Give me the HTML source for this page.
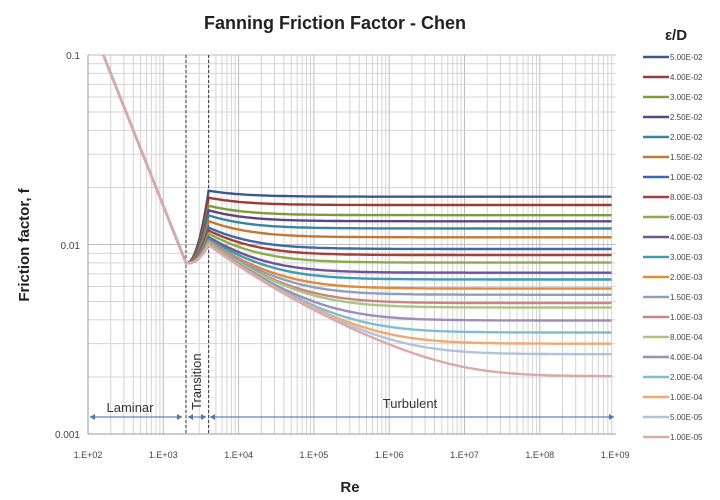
<!DOCTYPE html>
<html><head><meta charset="utf-8"><style>
html,body{margin:0;padding:0;background:#fff;}
svg{display:block;font-family:"Liberation Sans",sans-serif;}
</style></head><body>
<svg id="s" width="720" height="500" viewBox="0 0 720 500" xmlns="http://www.w3.org/2000/svg"></svg>
<script>
var s=document.getElementById('s'),h='';
var X0=88,XD=75.3,Y0=434,YD=189.5;
function X(re){return X0+XD*(Math.log10(re)-2);}
function Y(f){return Y0-YD*(Math.log10(f)+3);}
for(var d=2;d<9;d++)for(var k=1;k<10;k++){var v=k*Math.pow(10,d);if(v>1e9)break;var x=X(v);
 h+='<line x1="'+x.toFixed(1)+'" y1="55" x2="'+x.toFixed(1)+'" y2="'+Y0+'" stroke="'+(k==1?'#bdbdbd':'#d4d4d4')+'" stroke-width="1"/>';}
for(var d=-3;d<-1;d++)for(var k=1;k<10;k++){var v=k*Math.pow(10,d);var y=Y(v);
 h+='<line x1="'+X0+'" y1="'+y.toFixed(1)+'" x2="615.7" y2="'+y.toFixed(1)+'" stroke="'+(k==1?'#bdbdbd':'#d4d4d4')+'" stroke-width="1"/>';}
h+='<line x1="'+X0+'" y1="55" x2="615.7" y2="55" stroke="#bdbdbd"/>';
h+='<line x1="'+X0+'" y1="55" x2="'+X0+'" y2="'+Y0+'" stroke="#999"/>';
h+='<line x1="'+X0+'" y1="'+Y0+'" x2="615.7" y2="'+Y0+'" stroke="#999"/>';
[2000,4000].forEach(function(r){var x=X(r);h+='<line x1="'+x+'" y1="55" x2="'+x+'" y2="'+Y0+'" stroke="#333" stroke-dasharray="3,2"/>';});
var eps=[5e-2,4e-2,3e-2,2.5e-2,2e-2,1.5e-2,1e-2,8e-3,6e-3,4e-3,3e-3,2e-3,1.5e-3,1e-3,8e-4,4e-4,2e-4,1e-4,5e-5,1e-5];
var lab=['5.00E-02','4.00E-02','3.00E-02','2.50E-02','2.00E-02','1.50E-02','1.00E-02','8.00E-03','6.00E-03','4.00E-03','3.00E-03','2.00E-03','1.50E-03','1.00E-03','8.00E-04','4.00E-04','2.00E-04','1.00E-04','5.00E-05','1.00E-05'];
var col=['#3b5a8c','#9b3a36','#7e9a3e','#5d467f','#36869c','#c07a35','#3f6aa6','#a3403c','#8aad4a','#6e5596','#3f9ab2','#e08a3a','#8c9fbf','#c98583','#a9c57f','#9d8db8','#7dbfcf','#f5a86e','#b0c3dc','#dba9a8'];
function chen(e,re){var A=Math.log10(Math.pow(e,1.1098)/2.8257+5.8506/Math.pow(re,0.8981));var v=-4*Math.log10(e/3.7065-5.0452/re*A);return 1/(v*v);}
for(var i=0;i<eps.length;i++){var e=eps[i],p=[];
 for(var l=Math.log10(160);l<=Math.log10(2000);l+=0.05)p.push([X(Math.pow(10,l)),Y(16/Math.pow(10,l))]);
 p.push([X(2000),Y(0.008)]);
 var a=Math.log10(0.008),b=Math.log10(chen(e,4000));
 for(var t=0.1;t<=1.001;t+=0.1){var lr=Math.log10(2000)+t*Math.log10(2);var lf=a+(b-a)*t*t-0.03*t*(1-t);p.push([X(Math.pow(10,lr)),Y(Math.pow(10,lf))]);}
 for(var l=Math.log10(4000)+0.05;l<=9.001;l+=0.05){var re=Math.pow(10,l);p.push([X(re),Y(chen(e,re))]);}
 h+='<polyline fill="none" stroke="'+col[i]+'" stroke-width="2.4" points="'+p.map(function(q){return q[0].toFixed(1)+','+q[1].toFixed(1)}).join(' ')+'"/>';}
for(var i=0;i<20;i++){var y=57+i*20;h+='<line x1="643" y1="'+y+'" x2="669" y2="'+y+'" stroke="'+col[i]+'" stroke-width="2.5"/><text x="670" y="'+(y+3)+'" font-size="8" fill="#444">'+lab[i]+'</text>';}
var xl=['1.E+02','1.E+03','1.E+04','1.E+05','1.E+06','1.E+07','1.E+08','1.E+09'];
for(var i=0;i<8;i++)h+='<text x="'+X(Math.pow(10,i+2))+'" y="458" font-size="9" fill="#444" text-anchor="middle">'+xl[i]+'</text>';
h+='<text x="80" y="59" font-size="10" fill="#444" text-anchor="end">0.1</text><text x="80" y="249" font-size="10" fill="#444" text-anchor="end">0.01</text><text x="80" y="438" font-size="10" fill="#444" text-anchor="end">0.001</text>';
function arr(x1,x2){var y=417;return '<line x1="'+x1+'" y1="'+y+'" x2="'+x2+'" y2="'+y+'" stroke="#5b86c5" stroke-width="1.3"/><path d="M'+x1+' '+y+'l5 -3v6z M'+x2+' '+y+'l-5 -3v6z" fill="#4d77b4"/>';}
h+=arr(90,182)+arr(188,206)+arr(210,614);
h+='<text x="130" y="412" font-size="13" fill="#333" text-anchor="middle">Laminar</text>';
h+='<text x="410" y="408" font-size="13" fill="#333" text-anchor="middle">Turbulent</text>';
h+='<text transform="translate(201,410) rotate(-90)" font-size="13" fill="#333">Transition</text>';
h+='<text x="335" y="29" font-size="18" font-weight="bold" fill="#222" text-anchor="middle">Fanning Friction Factor - Chen</text>';
h+='<text x="676" y="40" font-size="15" font-weight="bold" fill="#222" text-anchor="middle">ε/D</text>';
h+='<text x="350" y="492" font-size="15" font-weight="bold" fill="#222" text-anchor="middle">Re</text>';
h+='<text transform="translate(29,245) rotate(-90)" font-size="15" font-weight="bold" fill="#222" text-anchor="middle">Friction factor, f</text>';
s.innerHTML=h;
</script>
</body></html>
